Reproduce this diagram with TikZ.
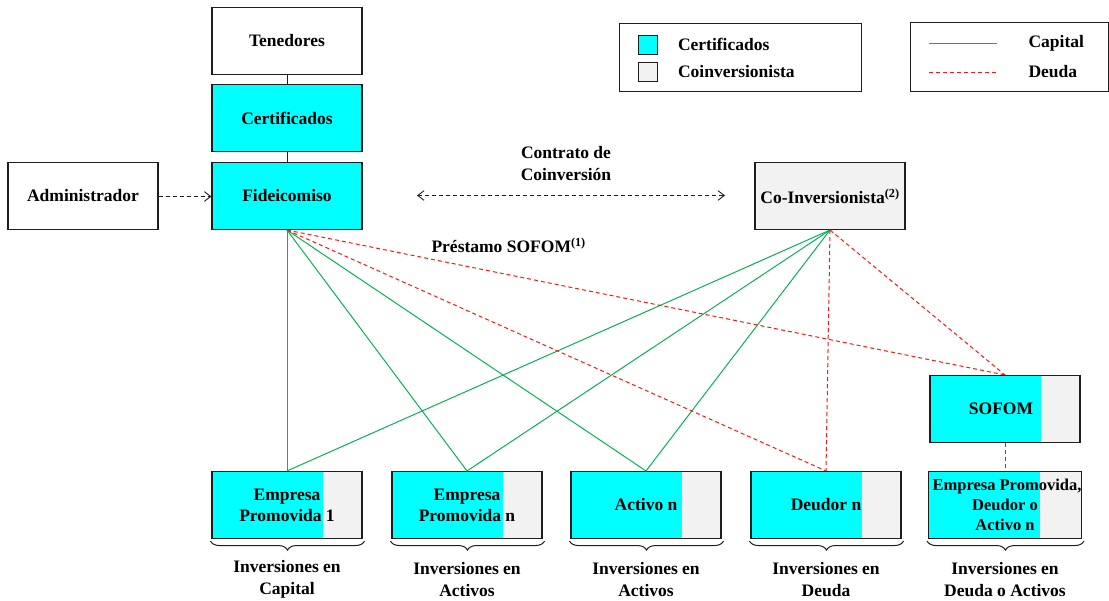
\documentclass[tikz,border=0pt]{standalone}
\usepackage{fontspec}
\setmainfont{Liberation Serif}
\usetikzlibrary{arrows.meta,decorations.pathreplacing}
\definecolor{certcyan}{RGB}{0,255,255}
\definecolor{coingray}{RGB}{242,242,242}
\definecolor{capgreen}{RGB}{10,176,84}
\definecolor{deudared}{RGB}{255,20,20}
\definecolor{edge}{RGB}{30,30,30}
\tikzset{
  base/.style={draw=edge, line width=1.1pt, minimum width=150pt, minimum height=67pt,
    inner sep=0pt, align=center, font=\fontsize{17.5}{21}\selectfont\bfseries},
  plainbox/.style={base, fill=white},
  certbox/.style={base, fill=certcyan},
  coinbox/.style={base, fill=coingray},
  splitbox/.style={base, fill=coingray,
    path picture={\fill[certcyan] (path picture bounding box.south west) rectangle
      ([xshift=111pt]path picture bounding box.north west);}},
  capline/.style={capgreen, line width=1pt},
  deudaline/.style={deudared, line width=1pt, dash pattern=on 4pt off 3pt},
  link/.style={edge, line width=0.8pt},
  dasharrow/.style={edge, line width=0.9pt, dash pattern=on 4pt off 3pt,
    arrows={-Straight Barb[angle=75:8pt]}},
  lbl/.style={align=center, font=\fontsize{17.5}{22}\selectfont\bfseries},
  bracepath/.style={decorate, decoration={brace, mirror, amplitude=9pt}, edge, line width=1pt},
  legbox/.style={draw=edge, line width=1pt}
}
\begin{document}
\begin{tikzpicture}[x=1pt,y=-1pt]
\useasboundingbox (0,0) rectangle (1109,601);

% upper chain
\node[plainbox] (ten) at (287,41) {Tenedores};
\node[certbox] (cert) at (287,118) {Certificados};
\node[certbox] (fid) at (287,196) {Fideicomiso};
\node[plainbox] (adm) at (83,196) {Administrador};
\node[coinbox] (coinv) at (830,196) {Co-Inversionista\textsuperscript{(2)}};
\draw[link] ([xshift=0.5pt]ten.south) -- ([xshift=0.5pt]cert.north);
\draw[link] ([xshift=0.5pt]cert.south) -- ([xshift=0.5pt]fid.north);
\draw[dasharrow] ([yshift=-0.5pt]adm.east) -- ([yshift=-0.5pt]fid.west);

% co-investment contract
\coordinate (cl) at (417,195.5);
\coordinate (cr) at (725,195.5);
\draw[dasharrow, arrows={Straight Barb[angle=75:8pt]-Straight Barb[angle=75:8pt]}] (cl) -- (cr);
\node[lbl] (contrato) at (566,164) {Contrato de\\Coinversión};

% investee boxes
\node[splitbox] (sofom) at (1005,409) {};
\node[font=\fontsize{17.5}{21}\selectfont\bfseries] (sofomtxt) at (1001,409) {SOFOM};

\node[splitbox] (e1) at (287,505) {Empresa\\Promovida 1};
\node[splitbox] (e2) at (467,505) {Empresa\\Promovida n};
\node[splitbox] (a3) at (646,505) {Activo n};
\node[splitbox] (d4) at (826,505) {Deudor n};
\node[splitbox, font=\fontsize{16.5}{20}\selectfont\bfseries] (x5) at (1005,505) {\hspace*{4pt}Empresa Promovida,\\Deudor o\\Activo n};

% capital flows
\draw[capline] ([xshift=0.5pt]fid.south) -- ([xshift=0.5pt]e1.north);
\draw[capline] (fid.south) -- (e2.north);
\draw[capline] (fid.south) -- (a3.north);
\draw[capline] (coinv.south) -- (e1.north);
\draw[capline] (coinv.south) -- (e2.north);
\draw[capline] (coinv.south) -- (a3.north);

% debt flows
\draw[deudaline] (fid.south) -- (d4.north);
\draw[deudaline] (fid.south) -- (sofom.north);
\draw[deudaline] (coinv.south) -- (d4.north);
\draw[deudaline] (coinv.south) -- (sofom.north);
\draw[deudaline] ([xshift=0.5pt]sofom.south) -- ([xshift=0.5pt]x5.north);
\node[lbl, anchor=west] (prest) at (428,245) {Préstamo SOFOM\textsuperscript{(1)}};

% braces and categories
\foreach \n/\t in {e1/{Inversiones en\\Capital}, e2/{Inversiones en\\Activos}, a3/{Inversiones en\\Activos}, d4/{Inversiones en\\Deuda}, x5/{Inversiones en\\Deuda o Activos}}{
  \draw[bracepath] ([xshift=-1pt,yshift=-2pt]\n.south west) -- ([xshift=2pt,yshift=-2pt]\n.south east);
  \node[lbl] at ([yshift=-40pt]\n.south) {\t};
}

% legend: fills
\node[legbox, minimum width=242pt, minimum height=68pt, inner sep=0pt] (leg1) at (740,58) {};
\node[draw=edge, line width=1pt, fill=certcyan, minimum size=19pt, inner sep=0pt] (sq1) at (648,45.5) {};
\node[draw=edge, line width=1pt, fill=coingray, minimum size=19pt, inner sep=0pt] (sq2) at (648,72.5) {};
\node[lbl, anchor=west] (lt1) at (674.5,44) {Certificados};
\node[lbl, anchor=west] (lt2) at (674.5,72) {Coinversionista};

% legend: lines
\node[legbox, minimum width=198pt, minimum height=69pt, inner sep=0pt] (leg2) at (1009,57) {};
\coordinate (g1) at (929,43.5); \coordinate (g2) at (997,43.5);
\coordinate (r1) at (929,72.5); \coordinate (r2) at (997,72.5);
\draw[capline] (g1) -- (g2);
\draw[deudaline] (r1) -- (r2);
\node[lbl, anchor=west] (lt3) at (1025,43) {Capital};
\node[lbl, anchor=west] (lt4) at (1025,72) {Deuda};
\end{tikzpicture}
\end{document}
